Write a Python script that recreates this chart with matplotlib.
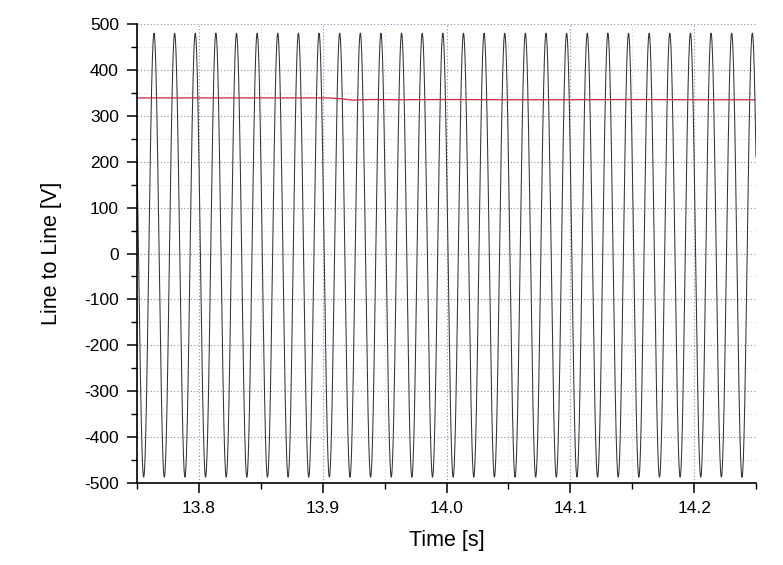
import numpy as np
import matplotlib
matplotlib.use('Agg')
import matplotlib.pyplot as plt
from matplotlib.ticker import MultipleLocator

plt.rcParams['font.family'] = ['Liberation Sans', 'DejaVu Sans']
plt.rcParams['axes.unicode_minus'] = False

# Line-to-line voltage waveform
freq_hz = 60.0          # 30 peaks across 0.5 s
first_peak_s = 13.7637  # time of the first positive peak
pos_peak_v = 480.0
neg_peak_v = -487.0

# Red trace (RMS-like level)
red_t = [13.75, 13.905, 13.910, 13.915, 13.920, 13.925, 13.930, 13.940,
         13.960, 14.000, 14.050, 14.100, 14.150, 14.200, 14.250]
red_v = [339.0, 339.0, 338.0, 337.0, 335.5, 334.0, 335.0, 335.5,
         335.0, 335.5, 335.0, 335.0, 335.5, 335.0, 335.0]

x_min, x_max = 13.75, 14.25

t = np.linspace(x_min, x_max, 12000)
c = np.cos(2 * np.pi * freq_hz * (t - first_peak_s))
v = np.where(c >= 0, pos_peak_v * c, -neg_peak_v * c)

fig = plt.figure(figsize=(7.83, 5.65), dpi=100)
ax = fig.add_axes([0.175, 0.145, 0.7905, 0.8125])

ax.plot(t, v, color='#333333', lw=0.75)
ax.plot(red_t, red_v, color='#cc2244', lw=0.9)

ax.set_xlim(x_min, x_max)
ax.set_ylim(-500, 500)
ax.xaxis.set_major_locator(MultipleLocator(0.1))
ax.xaxis.set_minor_locator(MultipleLocator(0.05))
ax.yaxis.set_major_locator(MultipleLocator(100))
ax.yaxis.set_minor_locator(MultipleLocator(50))
ax.set_xticks([13.8, 13.9, 14.0, 14.1, 14.2])
ax.set_xticklabels(['13.8', '13.9', '14.0', '14.1', '14.2'])

ax.grid(which='major', color='#8c8cb4', ls=(0, (1, 2)), lw=0.8)
ax.grid(which='minor', color='#cfdccf', ls=(0, (1, 2)), lw=0.8)
ax.set_axisbelow(True)

for s in ['top', 'right']:
    ax.spines[s].set_visible(False)
ax.spines['left'].set_linewidth(1.2)
ax.spines['bottom'].set_linewidth(1.2)

ax.tick_params(which='major', direction='out', length=7, width=1.1,
               labelsize=12.5, pad=6)
ax.tick_params(which='minor', direction='out', length=4, width=1.0)

ax.set_xlabel('Time [s]', fontsize=15.5, labelpad=10)
ax.set_ylabel('Line to Line [V]', fontsize=15.5, labelpad=16)

fig.savefig('out.png', dpi=100)
